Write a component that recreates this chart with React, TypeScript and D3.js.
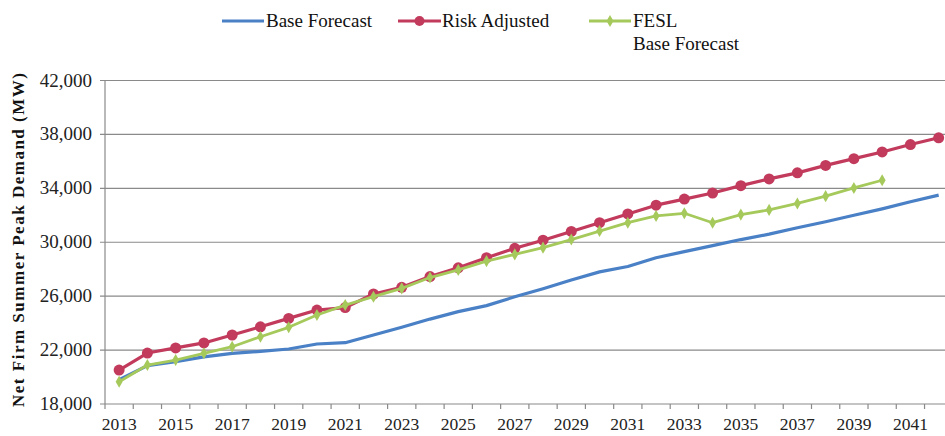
import React from "react";
import * as d3 from "d3";

const years: number[] = d3.range(2013, 2043);
const baseForecast: number[] = [19800, 20850, 21140, 21500, 21760, 21900, 22080, 22450, 22550, 23120, 23700, 24300, 24850, 25300, 25950, 26550, 27200, 27800, 28200, 28850, 29300, 29750, 30200, 30600, 31080, 31520, 32000, 32480, 33000, 33500];
const riskAdjusted: number[] = [20520, 21780, 22160, 22530, 23120, 23730, 24350, 24970, 25150, 26160, 26660, 27450, 28100, 28850, 29550, 30150, 30800, 31450, 32100, 32750, 33200, 33650, 34200, 34700, 35150, 35700, 36200, 36700, 37250, 37750];
const feslBase: number[] = [19650, 20890, 21260, 21760, 22250, 22990, 23690, 24600, 25340, 25960, 26580, 27380, 27950, 28600, 29100, 29600, 30200, 30830, 31450, 31950, 32150, 31450, 32050, 32400, 32880, 33420, 34030, 34600];
const yTicks: number[] = [18000, 22000, 26000, 30000, 34000, 38000, 42000];
const xLabelYears: number[] = d3.range(2013, 2042, 2);

const BLUE = "#4a80c6";
const RED = "#c23a5c";
const GREEN = "#a6c95c";
const FONT = "'Liberation Serif', 'Times New Roman', serif";

export default function App() {
  const W = 945, H = 436;
  const left = 105, bandW = 28.26, top = 80.5, bottom = 404;
  const x = d3.scaleBand<number>().domain(years).range([left, left + years.length * bandW]).padding(0);
  const y = d3.scaleLinear().domain([18000, 42000]).range([bottom, top]);
  const cx = (yr: number) => (x(yr) as number) + x.bandwidth() / 2;

  const line = d3.line<[number, number]>().x((d) => cx(d[0])).y((d) => y(d[1]));
  const blueData: [number, number][] = baseForecast.map((v, i) => [years[i], v]);
  const redData: [number, number][] = riskAdjusted.map((v, i) => [years[i], v]);
  const greenData: [number, number][] = feslBase.map((v, i) => [years[i], v]);
  const diamond = d3.symbol().type(d3.symbolDiamond).size(42)();
  const tstyle: React.CSSProperties = { fontFamily: FONT };

  return (
    <svg width={W} height={H} style={{ position: "absolute", left: 0, top: 0, background: "#fff" }}>
      {/* Legend */}
      <g fontSize={19} fill="#111" style={tstyle}>
        <line x1={222} x2={264} y1={21} y2={21} stroke={BLUE} strokeWidth={3} />
        <text x={266} y={27} style={tstyle}>Base Forecast</text>
        <line x1={398} x2={441} y1={21} y2={21} stroke={RED} strokeWidth={3} />
        <circle cx={419.5} cy={21} r={5} fill={RED} />
        <text x={442} y={27} style={tstyle}>Risk Adjusted</text>
        <line x1={589} x2={631} y1={21} y2={21} stroke={GREEN} strokeWidth={3} />
        <path d={diamond as string} transform="translate(610,21)" fill={GREEN} />
        <text x={633} y={27} style={tstyle}>FESL</text>
        <text x={633} y={50} style={tstyle}>Base Forecast</text>
      </g>
      {/* Gridlines */}
      {yTicks.map((t) => (
        <line key={t} x1={left - 5} x2={W} y1={y(t)} y2={y(t)} stroke="#8a8a8a" strokeWidth={1.2} />
      ))}
      <line x1={left} x2={left} y1={top} y2={bottom} stroke="#8a8a8a" strokeWidth={1.2} />
      {yTicks.map((t) => (
        <text key={t} x={92} y={y(t) + 6} textAnchor="end" fontSize={19} fill="#222" style={tstyle}>
          {d3.format(",")(t)}
        </text>
      ))}
      {years.map((yr) => (
        <line key={yr} x1={x(yr) as number} x2={x(yr) as number} y1={bottom} y2={bottom + 5} stroke="#8a8a8a" strokeWidth={1.2} />
      ))}
      {xLabelYears.map((yr) => (
        <text key={yr} x={cx(yr)} y={430} textAnchor="middle" fontSize={17.5} fill="#222" style={tstyle}>
          {yr}
        </text>
      ))}
      <text transform="translate(24,240) rotate(-90)" textAnchor="middle" fontSize={17} fontWeight="bold" fill="#111" style={tstyle} textLength={334} lengthAdjust="spacing">
        Net Firm Summer Peak Demand (MW)
      </text>
      <g>
        <path d={line(blueData) as string} fill="none" stroke={BLUE} strokeWidth={3.2} strokeLinejoin="round" />
        <path d={line(redData) as string} fill="none" stroke={RED} strokeWidth={3.2} strokeLinejoin="round" />
        {redData.map((d) => (
          <circle key={d[0]} cx={cx(d[0])} cy={y(d[1])} r={5.5} fill={RED} />
        ))}
        <path d={line(greenData) as string} fill="none" stroke={GREEN} strokeWidth={2.8} strokeLinejoin="round" />
        {greenData.map((d) => (
          <path key={d[0]} d={diamond as string} transform={`translate(${cx(d[0])},${y(d[1])})`} fill={GREEN} />
        ))}
      </g>
    </svg>
  );
}
